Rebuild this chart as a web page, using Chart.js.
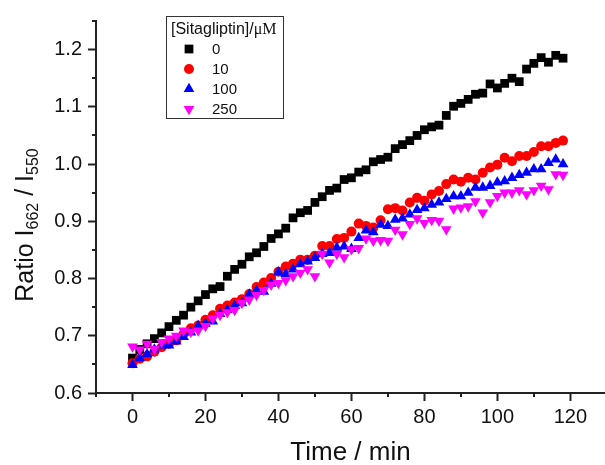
<!DOCTYPE html>
<html>
<head>
<meta charset="utf-8">
<script src="https://cdn.jsdelivr.net/npm/chart.js@4/dist/chart.umd.min.js"></script>
<style>
  body { margin: 0; background: #fff; }
  canvas { display: block; }
</style>
</head>
<body>
<canvas id="ratio-chart" width="605" height="465"></canvas>
<script>
/*
 * Data
**/
const times = [0, 2, 4, 6, 8, 10, 12, 14, 16, 18, 20, 22, 24, 26, 28, 30, 32, 34, 36, 38,
  40, 42, 44, 46, 48, 50, 52, 54, 56, 58, 60, 62, 64, 66, 68, 70, 72, 74, 76, 78,
  80, 82, 84, 86, 88, 90, 92, 94, 96, 98, 100, 102, 104, 106, 108, 110, 112, 114, 116, 118]

const conc0 = [0.661, 0.676, 0.686, 0.695, 0.705, 0.716, 0.727, 0.736, 0.750, 0.761,
  0.772, 0.782, 0.786, 0.804, 0.816, 0.825, 0.838, 0.845, 0.856, 0.870,
  0.878, 0.888, 0.906, 0.915, 0.919, 0.933, 0.943, 0.954, 0.958, 0.973,
  0.976, 0.986, 0.990, 1.004, 1.008, 1.012, 1.027, 1.034, 1.041, 1.050,
  1.060, 1.065, 1.068, 1.085, 1.101, 1.106, 1.113, 1.122, 1.124, 1.140,
  1.133, 1.141, 1.150, 1.144, 1.166, 1.176, 1.186, 1.178, 1.190, 1.185]

const conc10 = [0.652, 0.660, 0.664, 0.672, 0.680, 0.686, 0.692, 0.703, 0.713, 0.718,
  0.728, 0.736, 0.747, 0.753, 0.758, 0.764, 0.773, 0.785, 0.793, 0.801,
  0.812, 0.821, 0.826, 0.833, 0.833, 0.840, 0.857, 0.857, 0.869, 0.871,
  0.882, 0.896, 0.892, 0.889, 0.902, 0.921, 0.923, 0.919, 0.933, 0.941,
  0.936, 0.947, 0.953, 0.965, 0.973, 0.969, 0.976, 0.973, 0.985, 0.994,
  0.999, 1.011, 1.005, 1.014, 1.014, 1.021, 1.031, 1.031, 1.037, 1.041]

const conc100 = [0.649, 0.661, 0.668, 0.676, 0.683, 0.683, 0.690, 0.698, 0.706, 0.717,
  0.721, 0.725, 0.738, 0.745, 0.752, 0.757, 0.772, 0.779, 0.777, 0.791,
  0.811, 0.808, 0.816, 0.825, 0.830, 0.836, 0.843, 0.845, 0.854, 0.856,
  0.852, 0.871, 0.884, 0.881, 0.894, 0.892, 0.903, 0.905, 0.912, 0.920,
  0.923, 0.929, 0.933, 0.939, 0.944, 0.944, 0.950, 0.959, 0.959, 0.962,
  0.968, 0.970, 0.976, 0.981, 0.985, 0.991, 0.991, 1.002, 1.008, 1.000]

const conc250 = [0.681, 0.676, 0.686, 0.677, 0.689, 0.695, 0.700, 0.709, 0.707, 0.709,
  0.717, 0.730, 0.736, 0.741, 0.745, 0.757, 0.763, 0.771, 0.780, 0.789,
  0.792, 0.797, 0.804, 0.810, 0.816, 0.804, 0.843, 0.828, 0.843, 0.837,
  0.851, 0.853, 0.870, 0.866, 0.867, 0.866, 0.885, 0.877, 0.895, 0.905,
  0.897, 0.902, 0.901, 0.886, 0.922, 0.924, 0.926, 0.935, 0.915, 0.933,
  0.944, 0.950, 0.950, 0.954, 0.947, 0.954, 0.962, 0.956, 0.982, 0.981]

const seriesLabels = ['0', '10', '100', '250']
const xTickLabels = ['0', '20', '40', '60', '80', '100', '120']
const yTickLabels = ['0.6', '0.7', '0.8', '0.9', '1.0', '1.1', '1.2']

const legendTitle = '[Sitagliptin]/'
const legendUnit = 'μM'
const xTitle = 'Time / min'
const yTitleParts = [['Ratio I', false], ['662', true], [' / I', false], ['550', true]]

const AXIS_COLOR = '#222'
const SANS = '"Liberation Sans", Arial, sans-serif'
const SERIF = '"Liberation Serif", "Times New Roman", serif'

/*
 * Helpers
**/
const toPoints = (values) => values.map((v, i) => ({ x: times[i], y: v }))

const toDataset = (label, values, color, style, radius, rotation, order) => ({
  label: label,
  data: toPoints(values),
  backgroundColor: color,
  borderColor: color,
  borderWidth: 0,
  pointStyle: style,
  pointRadius: radius,
  pointRotation: rotation,
  order: order
})

const fmtX = (v) => String(Math.round(v))
const fmtY = (v) => (Math.round(v * 100) / 100).toFixed(1)
const isMajorX = (v) => xTickLabels.includes(fmtX(v)) && Math.abs(v - Math.round(v)) < 1e-6
const isMajorY = (v) => Math.round(v * 100) % 10 === 0

/*
 * Plugins: minor ticks, rotated y title with subscripts, boxed legend
**/
const minorTicks = {
  id: 'minorTicks',
  afterDraw(chart) {
    const { ctx, scales: { x, y } } = chart
    ctx.save()
    ctx.strokeStyle = AXIS_COLOR
    ctx.lineWidth = 2
    x.ticks.forEach((t) => {
      if (isMajorX(t.value)) return
      const px = Math.round(x.getPixelForValue(t.value))
      ctx.beginPath()
      ctx.moveTo(px, x.top)
      ctx.lineTo(px, x.top + 4)
      ctx.stroke()
    })
    y.ticks.forEach((t) => {
      if (isMajorY(t.value)) return
      const py = Math.round(y.getPixelForValue(t.value))
      ctx.beginPath()
      ctx.moveTo(y.right, py)
      ctx.lineTo(y.right - 4, py)
      ctx.stroke()
    })
    ctx.restore()
  }
}

const yTitle = {
  id: 'yTitle',
  afterDraw(chart) {
    const ctx = chart.ctx
    const big = '25px ' + SANS
    const small = '16px ' + SANS
    let total = 0
    yTitleParts.forEach(([text, sub]) => {
      ctx.font = sub ? small : big
      total += ctx.measureText(text).width
    })
    const mid = (chart.chartArea.top + chart.chartArea.bottom) / 2 + 18
    ctx.save()
    ctx.translate(33, mid + total / 2)
    ctx.rotate(-Math.PI / 2)
    ctx.fillStyle = '#111'
    ctx.textBaseline = 'alphabetic'
    let pos = 0
    yTitleParts.forEach(([text, sub]) => {
      ctx.font = sub ? small : big
      ctx.fillText(text, pos, sub ? 5 : 0)
      pos += ctx.measureText(text).width
    })
    ctx.restore()
  }
}

const boxLegend = {
  id: 'boxLegend',
  afterDraw(chart) {
    const ctx = chart.ctx
    const box = { left: 166, top: 16, right: 283, bottom: 118 }
    ctx.save()
    ctx.fillStyle = '#fff'
    ctx.fillRect(box.left, box.top, box.right - box.left, box.bottom - box.top)
    ctx.strokeStyle = '#333'
    ctx.lineWidth = 1
    ctx.strokeRect(box.left + 0.5, box.top + 0.5, box.right - box.left, box.bottom - box.top)

    ctx.fillStyle = '#111'
    ctx.textBaseline = 'alphabetic'
    ctx.font = '16px ' + SANS
    ctx.fillText(legendTitle, 171, 34)
    const w = ctx.measureText(legendTitle).width
    ctx.font = '16px ' + SERIF
    ctx.fillText(legendUnit, 171 + w, 34)

    chart.data.datasets.forEach((ds, i) => {
      const cy = 49 + i * 20
      ctx.fillStyle = ds.backgroundColor
      ctx.strokeStyle = ds.borderColor
      Chart.helpers.drawPoint(ctx, {
        pointStyle: ds.pointStyle,
        radius: ds.pointRadius,
        rotation: ds.pointRotation,
        borderWidth: 0
      }, 189, cy)
      ctx.fillStyle = '#111'
      ctx.font = '15px ' + SANS
      ctx.textBaseline = 'middle'
      ctx.fillText(ds.label, 212, cy + 1)
    })
    ctx.restore()
  }
}

/*
 * Chart
**/
const datasets = [
  toDataset(seriesLabels[0], conc0, '#000000', 'rect', 6.2, 0, 3),
  toDataset(seriesLabels[1], conc10, '#ff0000', 'circle', 5, 0, 2),
  toDataset(seriesLabels[2], conc100, '#0000ff', 'triangle', 6.2, 0, 1),
  toDataset(seriesLabels[3], conc250, '#ff00ff', 'triangle', 6.2, 180, 0)
]

const axisBase = {
  border: { display: true, color: AXIS_COLOR, width: 2 },
  grid: {
    display: true,
    drawOnChartArea: false,
    drawTicks: true,
    tickLength: 8,
    tickWidth: 2
  }
}

new Chart(document.getElementById('ratio-chart'), {
  type: 'scatter',
  data: { datasets: datasets },
  options: {
    responsive: false,
    animation: false,
    layout: { autoPadding: false, padding: { top: 21, right: 0, left: 0, bottom: 0 } },
    plugins: { legend: { display: false }, tooltip: { enabled: false } },
    scales: {
      x: {
        ...axisBase,
        min: -10,
        max: 129.5,
        grid: {
          ...axisBase.grid,
          tickColor: (c) => (c.tick && isMajorX(c.tick.value) ? AXIS_COLOR : 'rgba(0,0,0,0)')
        },
        ticks: {
          stepSize: 10,
          includeBounds: false,
          autoSkip: false,
          maxRotation: 0,
          padding: 4,
          color: '#111',
          font: { family: SANS, size: 20 },
          callback: (v) => (isMajorX(v) ? fmtX(v) : '')
        },
        title: {
          display: true,
          text: xTitle,
          color: '#111',
          font: { family: SANS, size: 26, lineHeight: 1 },
          padding: { top: 0, bottom: -1 }
        },
        afterFit: (scale) => { scale.height = 72 }
      },
      y: {
        ...axisBase,
        min: 0.6,
        max: 1.25,
        grid: {
          ...axisBase.grid,
          tickColor: (c) => (c.tick && isMajorY(c.tick.value) ? AXIS_COLOR : 'rgba(0,0,0,0)')
        },
        ticks: {
          stepSize: 0.05,
          autoSkip: false,
          padding: 6,
          color: '#111',
          font: { family: SANS, size: 20 },
          callback: (v) => (isMajorY(v) && yTickLabels.includes(fmtY(v)) ? fmtY(v) : '')
        },
        afterFit: (scale) => { scale.width = 96 }
      }
    }
  },
  plugins: [minorTicks, yTitle, boxLegend]
})
</script>
</body>
</html>
